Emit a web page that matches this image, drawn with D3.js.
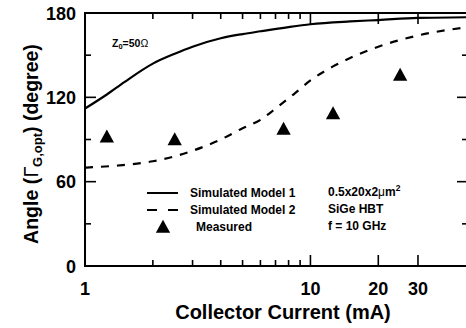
<!DOCTYPE html>
<html><head><meta charset="utf-8">
<script src="https://cdn.jsdelivr.net/npm/d3@7/dist/d3.min.js"></script>
<style>body{margin:0;background:#fff}svg{display:block}text{font-family:"Liberation Sans",Arial,sans-serif}</style>
</head><body><svg id="c" width="466" height="328"></svg>
<script>
const model1Current = [1, 1.25, 1.5, 2, 2.5, 3, 4, 5, 6, 8, 10, 15, 20, 30, 50];
const model1Angle   = [112, 122, 131, 144, 151, 156, 162, 165, 167, 170, 172, 174, 175, 176.5, 177];
const model2Current = [1, 1.4, 2, 2.5, 3, 4, 5, 6, 7, 8.4, 10, 12.6, 15, 20, 30, 50];
const model2Angle   = [70, 71.5, 74.5, 78, 82, 90, 98, 104, 112, 122, 132, 142, 148, 156, 164, 170];
const measCurrent = [1.25, 2.5, 7.6, 12.6, 25];
const measAngle   = [92, 90, 97.5, 108.5, 136];
const xMajorTicks = [1, 10, 20, 30];
const xMinorTicks = [2, 3, 4, 5, 6, 7, 8, 9];
const yMajorTicks = [0, 60, 120, 180];
const yMinorTicks = [30, 90, 150];

const svg = d3.select("#c");
const L = 85, R = 468, T = 13, B = 266;
const x = d3.scaleLog().domain([1, 50]).range([L, R]);
const y = d3.scaleLinear().domain([0, 180]).range([B, T]);

const g = svg.append("g");
g.append("path").attr("d", `M${L},${T}H${R}V${B}H${L}Z`).attr("fill", "none").attr("stroke", "#000").attr("stroke-width", 2);

const tk = (x1, y1, x2, y2) => g.append("line").attr("x1", x1).attr("y1", y1).attr("x2", x2).attr("y2", y2).attr("stroke", "#000").attr("stroke-width", 1.6);
xMajorTicks.forEach(v => { tk(x(v), B, x(v), B - 11); tk(x(v), T, x(v), T + 11); });
xMinorTicks.forEach(v => { tk(x(v), B, x(v), B - 6); tk(x(v), T, x(v), T + 6); });
yMajorTicks.forEach(v => { tk(L, y(v), L + 11, y(v)); tk(R, y(v), R - 11, y(v)); });
yMinorTicks.forEach(v => { tk(L, y(v), L + 6, y(v)); tk(R, y(v), R - 6, y(v)); });

const fmt = d3.format("d");
xMajorTicks.forEach(v => g.append("text").attr("x", x(v)).attr("y", 295).attr("text-anchor", "middle")
  .attr("font-size", 18).attr("font-weight", "bold").text(fmt(v)));
yMajorTicks.forEach(v => g.append("text").attr("x", 76).attr("y", y(v) + 6.5).attr("text-anchor", "end")
  .attr("font-size", 18).attr("font-weight", "bold").text(fmt(v)));

g.append("text").attr("x", 283).attr("y", 319).attr("text-anchor", "middle").attr("font-size", 20).attr("font-weight", "bold").text("Collector Current (mA)");
const yt = g.append("text").attr("transform", "translate(38,144) rotate(-90)").attr("text-anchor", "middle").attr("font-size", 19.5).attr("font-weight", "bold");
yt.append("tspan").text("Angle (");
yt.append("tspan").attr("font-weight", "normal").attr("font-family", "DejaVu Sans").text("Γ");
yt.append("tspan").attr("font-size", 13).attr("dy", 4).text("G,opt");
yt.append("tspan").attr("dy", -4).text(") (degree)");

const line = d3.line().x(d => x(d[0])).y(d => y(d[1])).curve(d3.curveMonotoneX);
g.append("path").attr("d", line(d3.zip(model1Current, model1Angle))).attr("fill", "none").attr("stroke", "#000").attr("stroke-width", 2.2);
g.append("path").attr("d", line(d3.zip(model2Current, model2Angle))).attr("fill", "none").attr("stroke", "#000").attr("stroke-width", 2.2).attr("stroke-dasharray", "8,8");

const tri = (cx, cy, s) => `M${cx},${cy - s * 0.55}L${cx + s * 0.55},${cy + s * 0.45}L${cx - s * 0.55},${cy + s * 0.45}Z`;
measCurrent.forEach((c, i) => g.append("path").attr("d", tri(x(c), y(measAngle[i]), 13)).attr("fill", "#000"));

const z = g.append("text").attr("x", 112).attr("y", 47).attr("font-size", 10.5).attr("font-weight", "bold");
z.append("tspan").text("Z");
z.append("tspan").attr("font-size", 7.5).attr("dy", 2).text("0");
z.append("tspan").attr("dy", -2).text("=50");
z.append("tspan").attr("font-weight", "normal").text("Ω");

g.append("line").attr("x1", 147).attr("x2", 178).attr("y1", 193).attr("y2", 193).attr("stroke", "#000").attr("stroke-width", 2);
g.append("line").attr("x1", 147).attr("x2", 178).attr("y1", 210).attr("y2", 210).attr("stroke", "#000").attr("stroke-width", 2).attr("stroke-dasharray", "10,11");
g.append("path").attr("d", tri(163, 227, 13)).attr("fill", "#000");
const lt = (tx, ty, s) => g.append("text").attr("x", tx).attr("y", ty).attr("font-size", 12).attr("font-weight", "bold").text(s);
lt(190, 197, "Simulated Model 1");
lt(190, 214, "Simulated Model 2");
lt(196, 231, "Measured");
const sz = g.append("text").attr("x", 328).attr("y", 196).attr("font-size", 12).attr("font-weight", "bold");
sz.append("tspan").text("0.5x20x2");
sz.append("tspan").attr("font-weight", "normal").text("μ");
sz.append("tspan").text("m");
sz.append("tspan").attr("font-size", 8.5).attr("dy", -5).text("2");
lt(328, 213, "SiGe HBT");
lt(328, 230, "f = 10 GHz");
</script></body></html>
